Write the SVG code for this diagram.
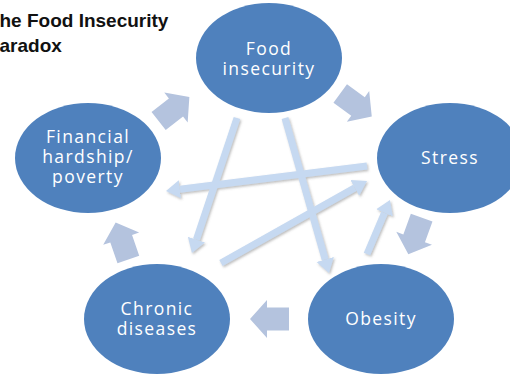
<svg xmlns="http://www.w3.org/2000/svg" width="510" height="377" viewBox="0 0 510 377">
  <style>
    .node ellipse { fill: #4F81BD; }
    .node text { fill: #FFFFFF; font-family: "Open Sans", "DejaVu Sans", sans-serif; font-size: 17.5px; letter-spacing: 1.4px; text-anchor: middle; }
    .block { fill: #B4C3DE; }
    .line { stroke: #C6D9F1; stroke-width: 7; fill: none; marker-end: url(#head); }
    .title { font-family: "Liberation Sans", Arial, sans-serif; font-weight: bold; font-size: 19px; fill: #111111; }
  </style>
  <defs>
    <marker id="head" markerUnits="userSpaceOnUse" viewBox="0 0 16 20" markerWidth="16" markerHeight="20" refX="0" refY="10" orient="auto">
      <path d="M0,1 L14,10 L0,19 Z" fill="#C6D9F1"/>
    </marker>
    <filter id="shadow" x="-10%" y="-10%" width="120%" height="120%">
      <feDropShadow dx="1.2" dy="1.5" stdDeviation="0.9" flood-color="#6F6F6F" flood-opacity="0.45"/>
    </filter>
    <!-- block arrow pointing +x, centred on the origin -->
    <path id="block" d="M19.5,0 L2.5,-19 L2.5,-11.5 L-19.5,-11.5 L-19.5,11.5 L2.5,11.5 L2.5,19 Z"/>
  </defs>

  <rect width="510" height="377" fill="#FFFFFF"/>

  <!-- title -->
  <text class="title" x="-0.5" y="27">he Food Insecurity<tspan x="-0.5" dy="25">aradox</tspan></text>

  <g id="connectors">
    <!-- cycle arrows -->
    <use href="#block" class="block" transform="translate(174,109) rotate(-38)"/>
    <use href="#block" class="block" transform="translate(356,105) rotate(36)"/>
    <use href="#block" class="block" transform="translate(415,236) rotate(110)"/>
    <use href="#block" class="block" transform="translate(269.5,319) rotate(180)"/>
    <use href="#block" class="block" transform="translate(122,241) rotate(-109)"/>
    <!-- cross links -->
    <g filter="url(#shadow)">
      <line class="line" x1="237" y1="118" x2="196.4" y2="239.7"/>
      <line class="line" x1="285" y1="118" x2="325.2" y2="259.5"/>
      <line class="line" x1="367" y1="166" x2="179.9" y2="189.3"/>
      <line class="line" x1="221" y1="263" x2="354.8" y2="187.9"/>
      <line class="line" x1="367" y1="254" x2="384.5" y2="212.9"/>
    </g>
  </g>

  <g id="food-insecurity" class="node">
    <ellipse cx="269" cy="58" rx="73" ry="55"/>
    <text x="269" y="55">Food<tspan x="269" dy="20">insecurity</tspan></text>
  </g>

  <g id="stress" class="node">
    <ellipse cx="450" cy="158" rx="73" ry="55"/>
    <text x="450" y="164">Stress</text>
  </g>

  <g id="obesity" class="node">
    <ellipse cx="381" cy="319" rx="73" ry="55"/>
    <text x="381" y="325">Obesity</text>
  </g>

  <g id="chronic-diseases" class="node">
    <ellipse cx="157" cy="319" rx="73" ry="55"/>
    <text x="157" y="315">Chronic<tspan x="157" dy="20">diseases</tspan></text>
  </g>

  <g id="financial-hardship" class="node">
    <ellipse cx="88" cy="158" rx="73" ry="55"/>
    <text x="88" y="143">Financial<tspan x="88" dy="20">hardship/</tspan><tspan x="88" dy="20">poverty</tspan></text>
  </g>
</svg>
